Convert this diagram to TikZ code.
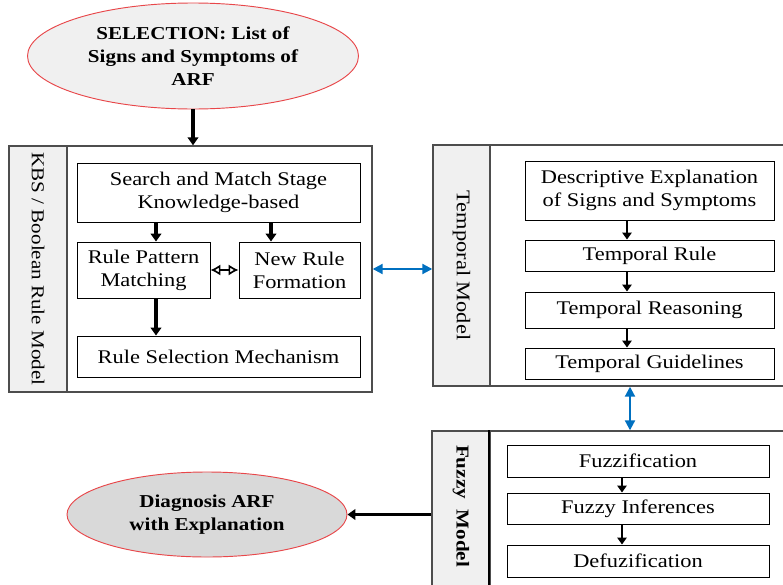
\documentclass[tikz,border=0pt]{standalone}
\usepackage{fontspec}
\setmainfont{Liberation Serif}[FakeStretch=1.16]
\usetikzlibrary{arrows.meta,positioning,shapes.geometric}
\definecolor{stripgray}{HTML}{F0F0F0}
\definecolor{ovalred}{HTML}{E8474A}
\definecolor{ovalgray}{HTML}{D9D9D9}
\definecolor{linkblue}{HTML}{0070C0}
\definecolor{framegray}{HTML}{4D4D4D}

\begin{document}
\begin{tikzpicture}[x=0.03cm,y=-0.03cm,every node/.style={font=\fontsize{16.5}{19.5}\selectfont},box/.style={rectangle,draw,line width=0.8pt,align=center,inner sep=0pt},strip/.style={rectangle,draw=framegray,line width=1.2pt,fill=stripgray,inner sep=0pt},frame/.style={rectangle,draw=framegray,line width=1.2pt,inner sep=0pt},oval/.style={ellipse,draw=ovalred,line width=0.8pt,align=center,inner sep=0pt,font=\fontsize{15.5}{19.5}\selectfont\bfseries},arrow/.style={-{Triangle[length=2.4mm,width=3.2mm]},line width=2.6pt},tarrow/.style={-{Triangle[length=2.1mm,width=2.8mm]},line width=1.8pt},link/.style={{Triangle[length=3mm,width=3mm]}-{Triangle[length=3mm,width=3mm]},linkblue,line width=1.8pt}]
\useasboundingbox (0,0) rectangle (783,584);
\clip (0,0) rectangle (783,584);
% input
\node[oval,fill=stripgray,minimum width=9.93cm,minimum height=3.18cm] (sel) at (193,56) {SELECTION: List of\\Signs and Symptoms of\\ARF};
% KBS / Boolean rule model
\node[strip,minimum width=1.74cm,minimum height=7.38cm] (kbsL) at (38,269) {};
\node[frame,minimum width=9.15cm,minimum height=7.38cm] (kbsM) at (219.5,269) {};
\node[rotate=-90,font=\fontsize{15.5}{19}\selectfont] (kbsT) at (kbsL) {KBS / Boolean Rule Model};
\node[box,minimum width=8.49cm,minimum height=1.77cm] (search) at (218.5,192.5) {Search and Match Stage\\Knowledge-based};
\node[box,minimum width=3.99cm,minimum height=1.68cm] (pattern) at (143.5,270) {Rule Pattern\\Matching};
\node[box,minimum width=3.63cm,minimum height=1.68cm] (newrule) at (299.5,270) {New Rule\\Formation};
\node[box,minimum width=8.49cm,minimum height=1.23cm] (select) at (218.5,356.5) {Rule Selection Mechanism};
% temporal model
\node[strip,minimum width=1.71cm,minimum height=7.23cm] (tmpL) at (461.5,265.5) {};
\node[frame,minimum width=9.3cm,minimum height=7.23cm] (tmpM) at (645,265.5) {};
\node[rotate=-90,font=\fontsize{16.5}{20}\selectfont] (tmpT) at (tmpL) {Temporal Model};
\node[box,minimum width=7.47cm,minimum height=1.77cm] (desc) at (649.5,190.5) {Descriptive Explanation\\of Signs and Symptoms};
\node[box,minimum width=7.47cm,minimum height=0.93cm] (trule) at (649.5,255.5) {Temporal Rule};
\node[box,minimum width=7.47cm,minimum height=1.08cm] (treason) at (649.5,310) {Temporal Reasoning};
\node[box,minimum width=7.47cm,minimum height=0.93cm] (tguide) at (649.5,363.5) {Temporal Guidelines};
% fuzzy model
\node[strip,minimum width=1.74cm,minimum height=6.27cm] (fzL) at (461,535.5) {};
\node[frame,minimum width=9.3cm,minimum height=6.27cm] (fzM) at (645,535.5) {};
\draw[line width=2pt] (fzM.north west) -- (fzM.south west);
\node[rotate=-90,font=\fontsize{15.5}{19.5}\selectfont\bfseries] (fzT) at (461,506) {Fuzzy\hspace{0.3em} Model};
\node[box,minimum width=7.86cm,minimum height=0.96cm] (fuzzif) at (638,461) {Fuzzification};
\node[box,minimum width=7.86cm,minimum height=0.93cm] (finf) at (638,508.5) {Fuzzy Inferences};
\node[box,minimum width=7.86cm,minimum height=0.96cm] (defuz) at (638,561) {Defuzification};
% output
\node[oval,fill=ovalgray,minimum width=8.4cm,minimum height=2.55cm] (diag) at (207,514.5) {Diagnosis ARF\\with Explanation};
% connectors
\coordinate (ka) at (156,0); \coordinate (kb) at (271,0); \coordinate (ta) at (627,0); \coordinate (fa) at (622,0); \coordinate (va) at (630,0);
\draw[arrow] (sel.south) -- (sel.south |- kbsM.north);
\draw[arrow] (search.south -| ka) -- (pattern.north -| ka); \draw[arrow] (search.south -| kb) -- (newrule.north -| kb); \draw[arrow] (pattern.south -| ka) -- (select.north -| ka);
\draw[{Latex[open,length=3mm,width=3.4mm]}-{Latex[open,length=3mm,width=3.4mm]},line width=1.4pt] (pattern.east) -- (newrule.west);
\draw[tarrow] (desc.south -| ta) -- (trule.north -| ta); \draw[tarrow] (trule.south -| ta) -- (treason.north -| ta); \draw[tarrow] (treason.south -| ta) -- (tguide.north -| ta);
\draw[tarrow] (fuzzif.south -| fa) -- (finf.north -| fa); \draw[tarrow] (finf.south -| fa) -- (defuz.north -| fa);
\draw[link] (kbsM.east) -- (kbsM.east -| tmpL.west);
\draw[link] (tmpM.south -| va) -- (fzL.north -| va);
\draw[arrow] (diag.east -| fzL.west) -- (diag.east);
\end{tikzpicture}
\end{document}
